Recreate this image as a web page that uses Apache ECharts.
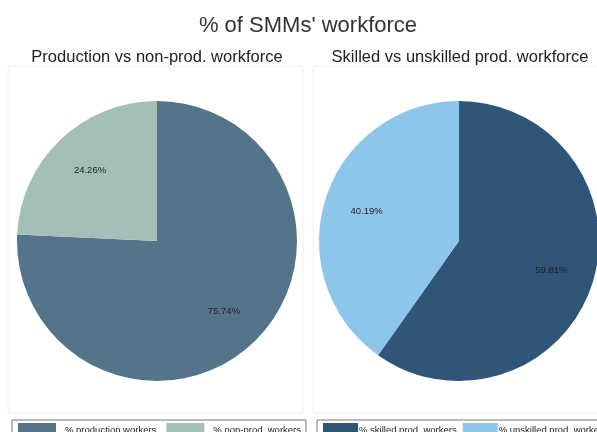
<!DOCTYPE html>
<html>
<head>
<meta charset="utf-8">
<script src="https://cdn.jsdelivr.net/npm/echarts@6/dist/echarts.min.js"></script>
<style>
	html,body{margin:0;padding:0;background:#fff;}
	#chart{width:597px;height:432px;}
</style>
</head>
<body>
<div id="chart"></div>
<script>
	// left pie: production vs non-production
	var workforceNames = ['% production workers', '% non-prod. workers'];
	var workforceValues = [75.74, 24.26];
	// right pie: skilled vs unskilled production
	var skillNames = ['% skilled prod. workers', '% unskilled prod. workers'];
	var skillValues = [59.81, 40.19];

	var workforceColors = ['#54748a', '#a3bfb7'];
	var skillColors = ['#2f5578', '#8ec5ea'];
	var font = 'Liberation Sans, Arial, sans-serif';

	function toData(names, values){
		var arr = [];
		for(var i=0;i<names.length;i++){
			arr.push({name:names[i], value:values[i]});
		}
		return arr;
	}

	// the visible pie, no labels
	function pieSeries(names, values, colors, cx){
		return {
			type:'pie',
			center:[cx, 241],
			radius:[0, 140],
			startAngle:90,
			clockwise:true,
			color:colors,
			silent:true,
			itemStyle:{borderWidth:0},
			label:{show:false},
			labelLine:{show:false},
			data:toData(names, values)
		};
	}
	// transparent ring on top, only to place the labels further out
	function labelSeries(names, values, cx){
		return {
			type:'pie',
			center:[cx, 241],
			radius:[48, 140],
			startAngle:90,
			clockwise:true,
			silent:true,
			itemStyle:{color:'rgba(0,0,0,0)'},
			label:{
				show:true,
				position:'inside',
				fontFamily:font,
				fontSize:9.5,
				color:'#222',
				formatter:function(p){ return p.value.toFixed(2) + '%'; }
			},
			labelLine:{show:false},
			data:toData(names, values)
		};
	}

	var legendCommon = {
		top:420,
		orient:'horizontal',
		width:500,
		icon:'rect',
		itemWidth:38,
		itemHeight:14,
		itemGap:10,
		borderColor:'#777',
		borderWidth:1,
		borderRadius:0,
		padding:[3,5,3,6],
		selectedMode:false,
		textStyle:{fontFamily:font, fontSize:9.5, color:'#222', padding:[0,0,0,4]}
	};

	var chart = echarts.init(document.getElementById('chart'), null, {renderer:'canvas'});
	chart.setOption({
		backgroundColor:'#fff',
		animation:false,
		title:[{
			text:"% of SMMs' workforce",
			left:303,
			textAlign:'center',
			top:10,
			textStyle:{fontFamily:font, fontSize:22, fontWeight:'normal', color:'#333'}
		},{
			text:'Production vs non-prod. workforce',
			left:152,
			textAlign:'center',
			top:44,
			textStyle:{fontFamily:font, fontSize:16.5, fontWeight:'normal', color:'#222'}
		},{
			text:'Skilled vs unskilled prod. workforce',
			left:455,
			textAlign:'center',
			top:44,
			textStyle:{fontFamily:font, fontSize:16.5, fontWeight:'normal', color:'#222'}
		}],
		graphic:[{
			type:'rect',
			shape:{x:8, y:66, width:295, height:347, r:3},
			style:{fill:'none', stroke:'#f0f0f0', lineWidth:1},
			z:-1
		},{
			type:'rect',
			shape:{x:313, y:66, width:295, height:347, r:3},
			style:{fill:'none', stroke:'#f0f0f0', lineWidth:1},
			z:-1
		}],
		legend:[
			Object.assign({}, legendCommon, {left:12, data:workforceNames}),
			Object.assign({}, legendCommon, {left:317, itemWidth:35, itemGap:6, textStyle:{fontFamily:font, fontSize:9.5, color:'#222', padding:[0,0,0,-4]}, data:skillNames})
		],
		series:[
			pieSeries(workforceNames, workforceValues, workforceColors, 157),
			pieSeries(skillNames, skillValues, skillColors, 459),
			labelSeries(workforceNames, workforceValues, 157),
			labelSeries(skillNames, skillValues, 459)
		]
	});
</script>
</body>
</html>
